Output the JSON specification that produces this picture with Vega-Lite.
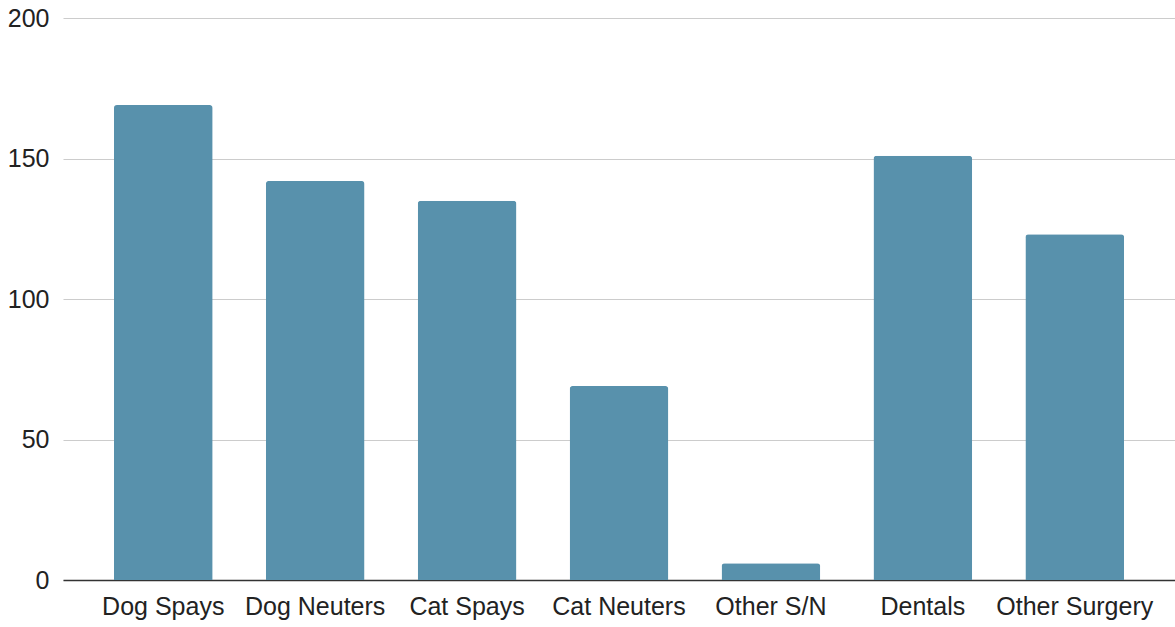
{
  "$schema": "https://vega.github.io/schema/vega-lite/v6.json",
  "autosize": "none",
  "width": 1112,
  "height": 562,
  "padding": {"left": 63, "top": 18, "right": 0, "bottom": 47},
  "background": "white",
  "data": {"values": [
    {"category": "Dog Spays", "count": 169},
    {"category": "Dog Neuters", "count": 142},
    {"category": "Cat Spays", "count": 135},
    {"category": "Cat Neuters", "count": 69},
    {"category": "Other S/N", "count": 6},
    {"category": "Dentals", "count": 151},
    {"category": "Other Surgery", "count": 123}
  ]},
  "mark": {"type": "bar", "color": "#5891AC", "cornerRadiusTopLeft": 3, "cornerRadiusTopRight": 3},
  "encoding": {
    "x": {
      "field": "category", "type": "nominal", "sort": null,
      "scale": {"paddingInner": 0.35, "paddingOuter": 0.335},
      "axis": {"title": null, "labelAngle": 0, "ticks": false, "domainColor": "#333333", "domainWidth": 1.5, "labelFont": "Liberation Sans", "labelFontSize": 25, "labelColor": "#222222", "labelPadding": 14, "grid": false}
    },
    "y": {
      "field": "count", "type": "quantitative",
      "scale": {"domain": [0, 200]},
      "axis": {"title": null, "values": [0, 50, 100, 150, 200], "domain": false, "ticks": false, "gridColor": "#cccccc", "gridWidth": 1.2, "labelFont": "Liberation Sans", "labelFontSize": 25, "labelColor": "#222222", "labelPadding": 14}
    }
  },
  "config": {"view": {"stroke": null}}
}
